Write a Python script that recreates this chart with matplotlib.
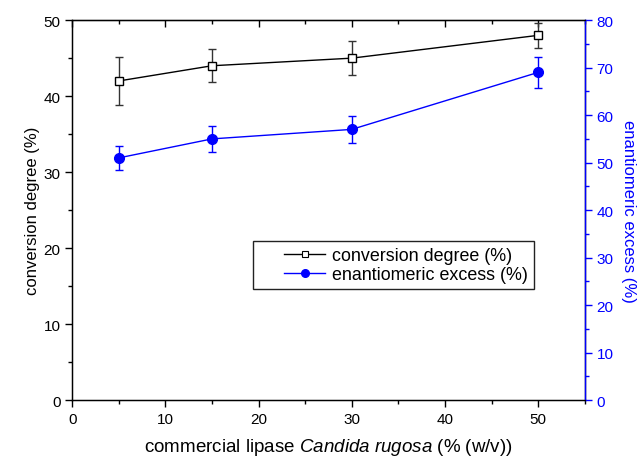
import matplotlib
matplotlib.use("Agg")
import matplotlib.pyplot as plt
from matplotlib.ticker import MultipleLocator
from matplotlib.lines import Line2D
from matplotlib.legend_handler import HandlerLine2D

plt.rcParams['font.family'] = ['Liberation Sans', 'DejaVu Sans']
plt.rcParams['font.size'] = 11
plt.rcParams['mathtext.fontset'] = 'custom'
plt.rcParams['mathtext.rm'] = 'Liberation Sans'
plt.rcParams['mathtext.it'] = 'Liberation Sans:italic'

# data
lipase = [5, 15, 30, 50]
conversion = [42.0, 44.0, 45.0, 48.0]
conversion_err = [3.1, 2.2, 2.2, 1.6]
ee = [51.0, 55.0, 57.0, 69.0]
ee_err = [2.6, 2.8, 2.8, 3.3]

blue = '#0000ff'

fig = plt.figure(figsize=(6.39, 4.6), dpi=100)
ax = fig.add_axes([0.113, 0.128, 0.802, 0.826])
ax2 = ax.twinx()

ax.errorbar(lipase, conversion, yerr=conversion_err, color='black', lw=1,
            marker='s', ms=5.5, mfc='white', mec='black', mew=1,
            capsize=2.6, elinewidth=1, ecolor='#333333')
ax2.errorbar(lipase, ee, yerr=ee_err, color=blue, lw=1,
             marker='o', ms=7, mfc=blue, mec=blue,
             capsize=3, elinewidth=1, ecolor=blue)

ax.set_xlim(0, 55)
ax.set_ylim(0, 50)
ax2.set_ylim(0, 80)

ax.xaxis.set_major_locator(MultipleLocator(10))
ax.xaxis.set_minor_locator(MultipleLocator(5))
ax.yaxis.set_major_locator(MultipleLocator(10))
ax.yaxis.set_minor_locator(MultipleLocator(5))
ax2.yaxis.set_major_locator(MultipleLocator(10))
ax2.yaxis.set_minor_locator(MultipleLocator(5))

ax.tick_params(which='major', direction='out', length=5, width=1)
ax.tick_params(which='minor', direction='out', length=3, width=1)
ax2.tick_params(which='major', direction='out', length=5, width=1,
                colors=blue)
ax2.tick_params(which='minor', direction='out', length=3, width=1,
                colors=blue)

top = ax.secondary_xaxis('top')
top.xaxis.set_major_locator(MultipleLocator(10))
top.xaxis.set_minor_locator(MultipleLocator(5))
top.tick_params(which='major', direction='in', length=5, width=1,
                labeltop=False)
top.tick_params(which='minor', direction='in', length=3, width=1)

for s in ax.spines.values():
    s.set_linewidth(1)
ax2.spines['right'].set_color(blue)
ax2.spines['right'].set_linewidth(1)

ax.set_xlabel('commercial lipase $\\it{Candida\\ rugosa}$ (% (w/v))',
              fontsize=13.5, labelpad=7)
ax.set_ylabel('conversion degree (%)', fontsize=12, labelpad=2.5)
ax2.set_ylabel('enantiomeric excess (%)', fontsize=12, color=blue,
               rotation=-90, labelpad=16)

# legend proxies: line - small marker - line, no error bars
h1 = Line2D([], [], color='black', lw=1, marker='s', ms=4.5,
            mfc='white', mec='black', mew=0.8)
h2 = Line2D([], [], color=blue, lw=1, marker='o', ms=5.5,
            mfc=blue, mec=blue)
pad = HandlerLine2D(xpad=1.4)
ax.legend([h1, h2], ['conversion degree (%)', 'enantiomeric excess (%)'],
          handler_map={h1: pad, h2: pad},
          loc='lower left', bbox_to_anchor=(0.353, 0.292), borderaxespad=0,
          fontsize=12.9, frameon=True, fancybox=False, edgecolor='#222222',
          framealpha=1, handlelength=3.69, borderpad=0.33, labelspacing=0.12,
          handletextpad=0.39)

fig.savefig('out.png', dpi=100)
